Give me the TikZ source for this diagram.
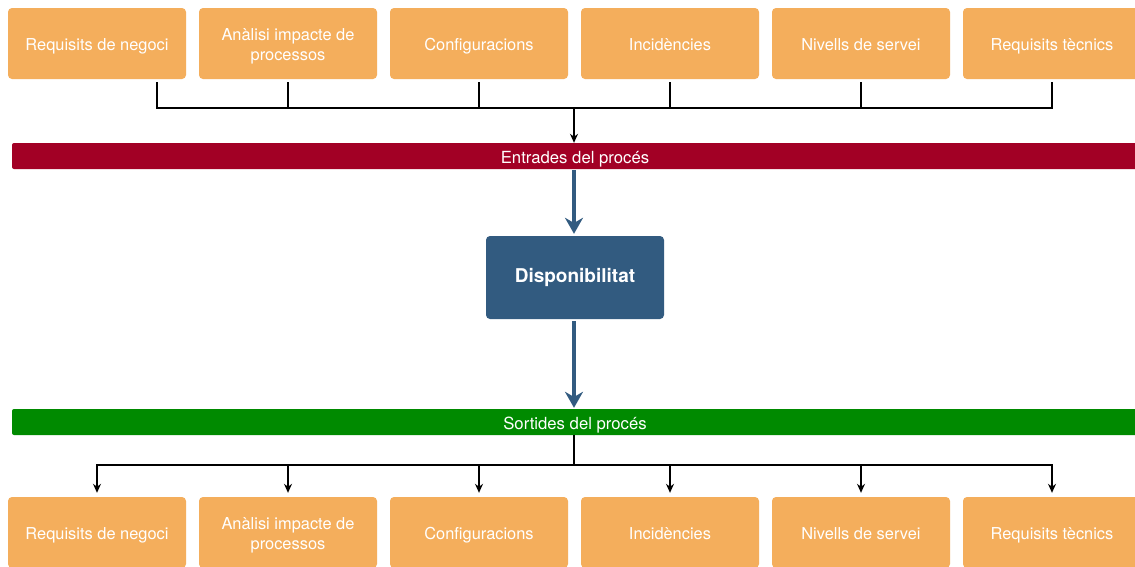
\documentclass[tikz,border=0pt]{standalone}
\usepackage{fontspec}
\setmainfont{TeX Gyre Heros}
\usetikzlibrary{arrows.meta}
\definecolor{orangebox}{HTML}{F4AE5C}
\definecolor{redbar}{HTML}{A20025}
\definecolor{greenbar}{HTML}{008A00}
\definecolor{bluebox}{HTML}{325B80}
\newcommand{\twolines}[2]{\raisebox{-7pt}[0pt][0pt]{\begin{tabular}{@{}c@{}}#1\\#2\end{tabular}}}
\tikzset{
  inbox/.style={fill=orangebox, rounded corners=4pt, minimum width=178pt, minimum height=71pt,
    inner sep=0pt, text=white, font=\fontsize{16.4}{20}\selectfont},
  oneline/.style={inbox, text height=16pt, text depth=2pt},
  barbox/.style={rounded corners=2pt, minimum width=1126pt, minimum height=26pt, inner sep=0pt,
    text=white, font=\fontsize{16.7}{20}\selectfont, text height=16pt, text depth=2pt},
  procbox/.style={fill=bluebox, rounded corners=4pt, minimum width=178pt, minimum height=83pt,
    inner sep=0pt, text=white, font=\fontsize{19}{22}\selectfont\bfseries},
  conn/.style={line width=1.2pt, black},
  connarrow/.style={conn, -{Stealth[length=9pt,width=8pt]}},
  bigarrow/.style={line width=3.3pt, bluebox, -{Stealth[length=16pt,width=18pt]}}
}
\begin{document}
\begin{tikzpicture}[x=1pt,y=-1pt]
\useasboundingbox (0,0) rectangle (1135,566);
\clip (0,0) rectangle (1135,566);
\fill[white] (0,0) rectangle (1135,566);
% top boxes
\node[oneline] (t1) at (97,43.5) {Requisits de negoci};
\node[inbox] (t2) at (288,43.5) {\twolines{Anàlisi impacte de}{processos}};
\node[oneline] (t3) at (479,43.5) {Configuracions};
\node[oneline] (t4) at (670,43.5) {Incidències};
\node[oneline] (t5) at (861,43.5) {Nivells de servei};
\node[oneline] (t6) at (1052,43.5) {Requisits tècnics};
% bars
\node[barbox, fill=redbar] (entr) at (575,156) {Entrades del procés};
\node[procbox] (disp) at (575,277.5) {Disponibilitat};
\node[barbox, fill=greenbar] (sort) at (575,422) {Sortides del procés};
% bottom boxes
\node[oneline] (b1) at (97,532.5) {Requisits de negoci};
\node[inbox] (b2) at (288,532.5) {\twolines{Anàlisi impacte de}{processos}};
\node[oneline] (b3) at (479,532.5) {Configuracions};
\node[oneline] (b4) at (670,532.5) {Incidències};
\node[oneline] (b5) at (861,532.5) {Nivells de servei};
\node[oneline] (b6) at (1052,532.5) {Requisits tècnics};
% junctions
\coordinate (jt) at (574,108);
\coordinate (jb) at (574,465);
% top connectors
\draw[conn, shorten <=3pt] ([xshift=60pt]t1.south) |- (jt);
\foreach \i in {2,...,6} {\draw[conn, shorten <=3pt] (t\i.south) |- (jt);}
\draw[connarrow] (jt) -- (entr.north -| jt);
% blue arrows
\draw[bigarrow, shorten <=1pt, shorten >=2pt] (entr.south -| jt) -- (disp.north -| jt);
\draw[bigarrow, shorten <=2pt, shorten >=1pt] (disp.south -| jt) -- (sort.north -| jt);
% bottom connectors
\draw[conn] (sort.south -| jt) -- (jb);
\foreach \i in {1,...,6} {\draw[connarrow, shorten >=4pt] (jb) -| (b\i.north);}
\end{tikzpicture}
\end{document}
